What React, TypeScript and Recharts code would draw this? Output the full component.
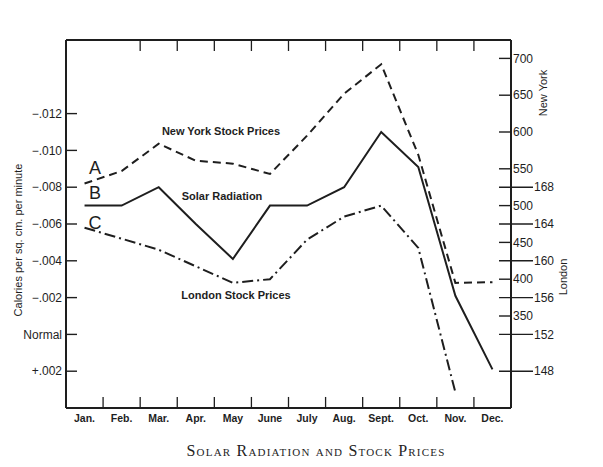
import React from "react"
import { LineChart, Line, XAxis, YAxis, ReferenceLine } from "recharts"

// values
const months = ["Jan.", "Feb.", "Mar.", "Apr.", "May", "June", "July", "Aug.", "Sept.", "Oct.", "Nov.", "Dec."]
const solarRadiation = [-0.007, -0.007, -0.008, -0.006, -0.0041, -0.007, -0.007, -0.008, -0.011, -0.0091, -0.0021, 0.0019]
const newYorkPrices = [530, 547, 584, 561, 557, 543, 595, 652, 692, 569, 395, 396]
const londonPrices = [163.6, 162.4, 161.2, 159.4, 157.6, 158.0, 162.3, 164.8, 166.0, 161.4, 145.7, null]

const solarTicks = [-0.012, -0.01, -0.008, -0.006, -0.004, -0.002, 0, 0.002]
const newYorkTicks = [350, 400, 450, 500, 550, 600, 650, 700]
const londonTicks = [148, 152, 156, 160, 164, 168]
const bottomBoundaries = [1, 2, 3, 4, 5, 6, 7, 8, 9, 10, 11]
const topBoundaries = [2, 3, 4, 5, 6, 7, 8, 9, 10, 11]

const SOLAR_DOMAIN = [-0.016, 0.004]
const MARK = 0.0006 // length of the month-boundary marks, in solar units (~11px)

// each month sits in the middle of its own slot on a 0..12 scale
const data = months.map((month, i) => ({
  month,
  slot: i + 0.5,
  solar: solarRadiation[i],
  newYork: newYorkPrices[i],
  london: londonPrices[i],
}))
const monthTicks = data.map((d) => d.slot)

const INK = "#1e1e1e"
const SANS = "'Liberation Sans', Arial, sans-serif"
const SERIF = "'Liberation Serif', 'DejaVu Serif', serif"

const fmtSolar = (v: number) => {
  const n = Math.round(Math.abs(v) * 1000)
  if (n === 0) return "Normal"
  const s = "." + String(n).padStart(3, "0")
  return v < 0 ? "\u2212" + s : "+" + s
}

const NoLabel = () => <g />

const MonthTick = (props: any) => {
  const { x, y, payload } = props
  return (
    <text x={x} y={y + 14} textAnchor="middle" fontSize={10.5} fontWeight={600} fill={INK} fontFamily={SANS}>
      {months[Math.floor(payload.value)]}
    </text>
  )
}

const LeftTick = (props: any) => {
  const { x, y, payload } = props
  return (
    <g>
      <line x1={x} x2={x + 11} y1={y} y2={y} stroke={INK} strokeWidth={1.4} />
      <text x={x - 4} y={y} dy="0.35em" textAnchor="end" fontSize={12} fill={INK} fontFamily={SANS}>
        {fmtSolar(payload.value)}
      </text>
    </g>
  )
}

// new york axis sits 1px right of the frame (after the 1px london axis)
const NewYorkTick = (props: any) => {
  const { x, y, payload } = props
  const ax = x - 1
  return (
    <g>
      <line x1={ax - 12} x2={ax} y1={y} y2={y} stroke={INK} strokeWidth={1.4} />
      <text x={ax + 2} y={y} dy="0.35em" textAnchor="start" fontSize={12} fill={INK} fontFamily={SANS}>
        {payload.value}
      </text>
    </g>
  )
}

const LondonTick = (props: any) => {
  const { x, y, payload } = props
  return (
    <g>
      <line x1={x - 12} x2={x + 22} y1={y} y2={y} stroke={INK} strokeWidth={1.4} />
      <text x={x + 23} y={y} dy="0.35em" textAnchor="start" fontSize={12} fill={INK} fontFamily={SANS}>
        {payload.value}
      </text>
    </g>
  )
}

export default function App() {
  return (
    <div style={{ position: "absolute", left: 0, top: 0, width: 603, height: 467, background: "#fff" }}>
      <LineChart width={603} height={467} data={data} margin={{ top: 40, right: 31, bottom: 34, left: 6 }}>
        <XAxis
          xAxisId="m"
          dataKey="slot"
          type="number"
          domain={[0, 12]}
          allowDataOverflow
          ticks={monthTicks}
          interval={0}
          height={25}
          tickSize={0}
          tickMargin={0}
          tickLine={false}
          axisLine={{ stroke: INK, strokeWidth: 2 }}
          tick={<MonthTick />}
        />
        <XAxis
          xAxisId="top"
          dataKey="slot"
          orientation="top"
          type="number"
          domain={[0, 12]}
          allowDataOverflow
          ticks={topBoundaries}
          interval={0}
          mirror
          height={1}
          tick={<NoLabel />}
          tickSize={11}
          axisLine={{ stroke: INK, strokeWidth: 2 }}
          tickLine={{ stroke: INK, strokeWidth: 1.3 }}
        />
        <YAxis
          yAxisId="solar"
          width={60}
          reversed
          domain={SOLAR_DOMAIN}
          ticks={solarTicks}
          interval={0}
          tickSize={0}
          tickMargin={0}
          tickLine={false}
          axisLine={{ stroke: INK, strokeWidth: 2 }}
          tick={<LeftTick />}
        />
        <YAxis
          yAxisId="ny"
          orientation="right"
          width={60}
          domain={[225, 725]}
          ticks={newYorkTicks}
          interval={0}
          tickSize={0}
          tickMargin={0}
          tickLine={false}
          axisLine={false}
          tick={<NewYorkTick />}
        />
        <YAxis
          yAxisId="london"
          orientation="right"
          width={1}
          domain={[144, 184]}
          ticks={londonTicks}
          interval={0}
          tickSize={0}
          tickMargin={0}
          tickLine={false}
          axisLine={{ stroke: INK, strokeWidth: 2 }}
          tick={<LondonTick />}
        />
        {bottomBoundaries.map((b) => (
          <ReferenceLine
            key={b}
            xAxisId="m"
            yAxisId="solar"
            segment={[
              { x: b, y: SOLAR_DOMAIN[1] },
              { x: b, y: SOLAR_DOMAIN[1] - MARK },
            ]}
            stroke={INK}
            strokeWidth={1.3}
            ifOverflow="visible"
          />
        ))}
        <Line
          xAxisId="m"
          yAxisId="ny"
          dataKey="newYork"
          type="linear"
          stroke={INK}
          strokeWidth={2}
          strokeDasharray="8 5"
          dot={false}
          isAnimationActive={false}
        />
        <Line
          xAxisId="m"
          yAxisId="solar"
          dataKey="solar"
          type="linear"
          stroke={INK}
          strokeWidth={2}
          dot={false}
          isAnimationActive={false}
        />
        <Line
          xAxisId="m"
          yAxisId="london"
          dataKey="london"
          type="linear"
          stroke={INK}
          strokeWidth={2}
          strokeDasharray="11 4 2 4"
          dot={false}
          connectNulls={false}
          isAnimationActive={false}
        />
      </LineChart>
      <svg
        width={603}
        height={467}
        style={{ position: "absolute", left: 0, top: 0, pointerEvents: "none" }}
      >
        <g fill={INK} fontFamily={SANS}>
          <text x={95} y={174} fontSize={18} textAnchor="middle">A</text>
          <text x={95} y={199} fontSize={18} textAnchor="middle">B</text>
          <text x={95} y={229} fontSize={18} textAnchor="middle">C</text>
          <text x={221} y={135} fontSize={11} fontWeight={600} textAnchor="middle">New York Stock Prices</text>
          <text x={222} y={200} fontSize={11} fontWeight={600} textAnchor="middle">Solar Radiation</text>
          <text x={236} y={299} fontSize={11} fontWeight={600} textAnchor="middle">London Stock Prices</text>
          <text transform="translate(22,240) rotate(-90)" fontSize={11} textAnchor="middle">
            Calories per sq. cm. per minute
          </text>
          <text transform="translate(547,93) rotate(-90)" fontSize={11} textAnchor="middle">New York</text>
          <text transform="translate(567,277) rotate(-90)" fontSize={11} textAnchor="middle">London</text>
        </g>
        <text
          x={316}
          y={456}
          fontSize={16}
          textAnchor="middle"
          fill={INK}
          fontFamily={SERIF}
          style={{ fontVariant: "small-caps", letterSpacing: 1.2 }}
        >
          Solar Radiation and Stock Prices
        </text>
      </svg>
    </div>
  )
}
